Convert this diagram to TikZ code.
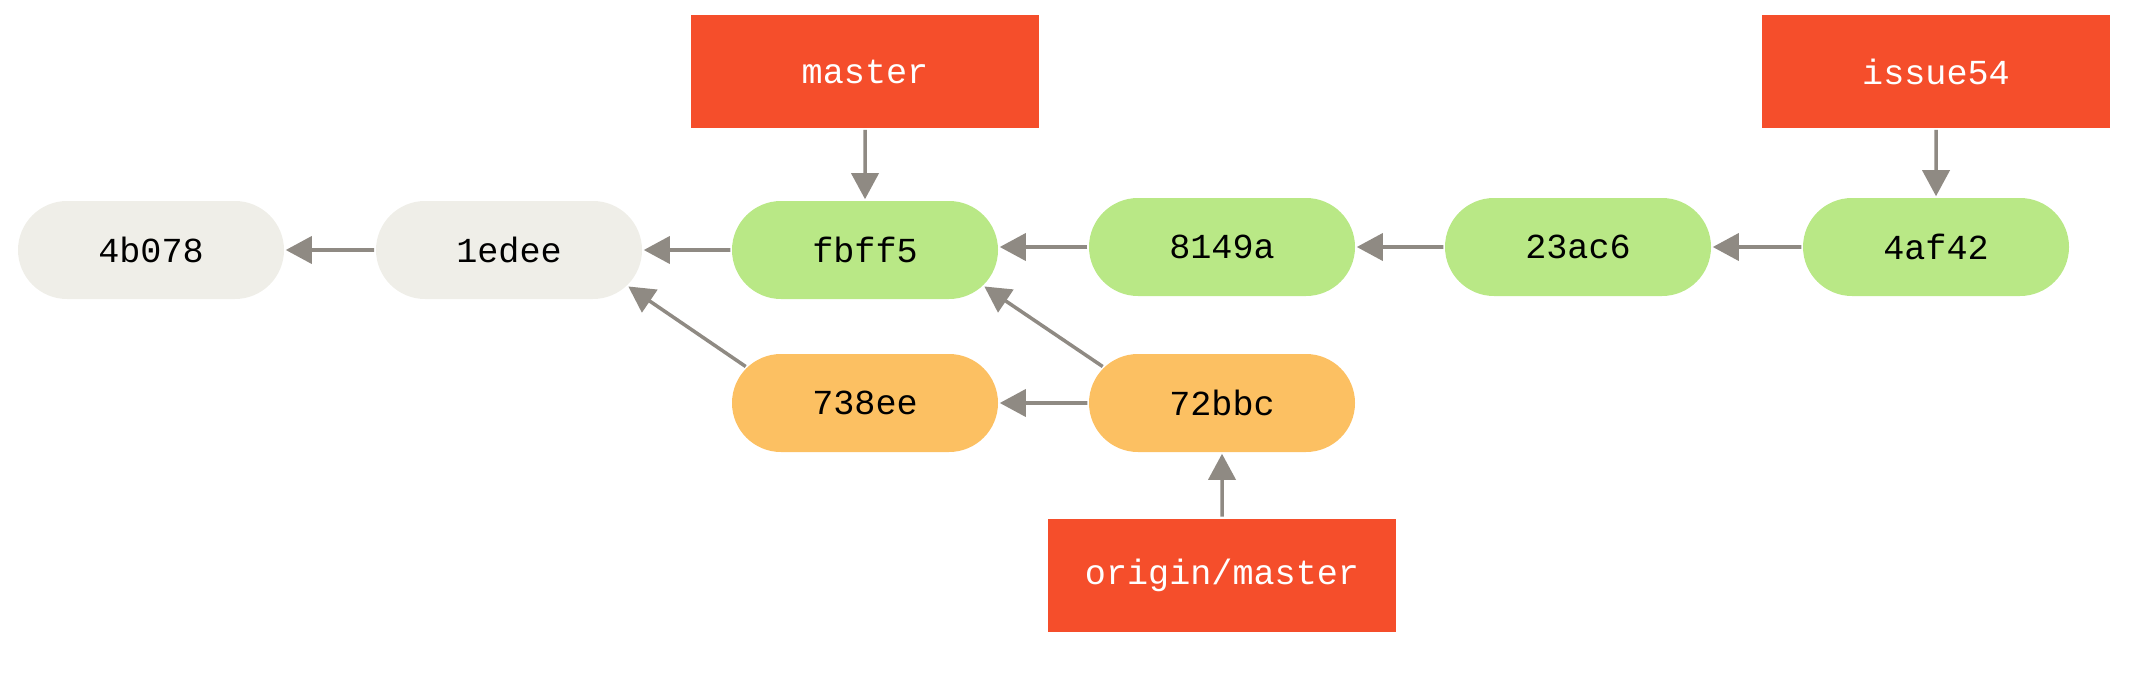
\documentclass[tikz,border=0pt]{standalone}
\usepackage{fontspec}
\setmonofont{Liberation Mono}
\usetikzlibrary{arrows.meta, shapes.misc}

\definecolor{commitgrey}{HTML}{EFEEE8}
\definecolor{commitgreen}{HTML}{B9E886}
\definecolor{commitorange}{HTML}{FCC062}
\definecolor{branchred}{HTML}{F54E2B}
\definecolor{arrowgrey}{HTML}{8F8A83}

\begin{document}
\begin{tikzpicture}[
    >={Triangle[length=7.4pt, width=7.7pt]},
    line width=1pt,
    font=\ttfamily\fontsize{10}{12}\selectfont,
    commit/.style={rounded rectangle, minimum width=2.66cm, minimum height=0.98cm, inner sep=0pt},
    branch/.style={fill=branchred, text=white, minimum width=3.48cm, minimum height=1.13cm, inner sep=0pt},
    link/.style={->, draw=arrowgrey}
]
    \useasboundingbox (0, 0) rectangle (21.42, 6.72);

    % Commits (top row)
    \node[commit, fill=commitgrey]  (4b078) at (1.51, 4.22) {4b078};
    \node[commit, fill=commitgrey]  (1edee) at (5.09, 4.22) {1edee};
    \node[commit, fill=commitgreen] (fbff5) at (8.65, 4.22) {fbff5};
    \node[commit, fill=commitgreen] (8149a) at (12.22, 4.25) {8149a};
    \node[commit, fill=commitgreen] (23ac6) at (15.78, 4.25) {23ac6};
    \node[commit, fill=commitgreen] (4af42) at (19.36, 4.25) {4af42};

    % Commits (bottom row)
    \node[commit, fill=commitorange] (738ee) at (8.65, 2.69) {738ee};
    \node[commit, fill=commitorange] (72bbc) at (12.22, 2.69) {72bbc};

    % Branches
    \node[branch] (master)  at (8.65, 6.005)  {master};
    \node[branch] (issue54) at (19.36, 6.005) {issue54};
    \node[branch] (origin)  at (12.22, 0.97)  {origin/master};

    % Parent links
    \draw[link] (1edee) -- (4b078);
    \draw[link] (fbff5) -- (1edee);
    \draw[link] (8149a.west) -- (fbff5.east |- 8149a.west);
    \draw[link] (23ac6) -- (8149a);
    \draw[link] (4af42) -- (23ac6);
    \draw[link] (72bbc) -- (738ee);
    \draw[link] (738ee.163) -- (1edee.-17);
    \draw[link] (72bbc.163) -- (fbff5.-17);

    % Branch pointers
    \draw[link] (master) -- (fbff5);
    \draw[link] (issue54) -- (4af42);
    \draw[link] (origin) -- (72bbc);

\end{tikzpicture}
\end{document}
